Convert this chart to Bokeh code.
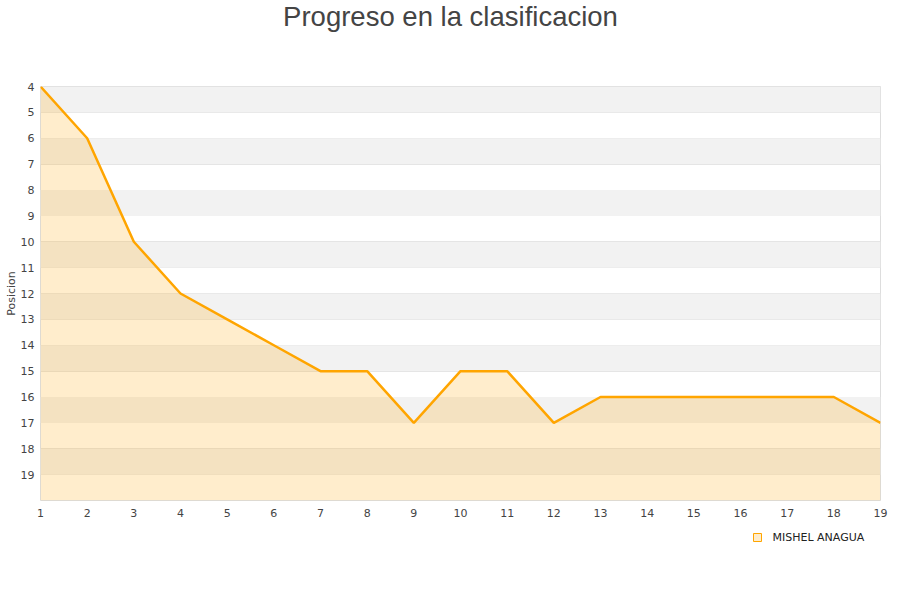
from bokeh.plotting import figure
from bokeh.layouts import column
from bokeh.models import Range1d, FixedTicker, BoxAnnotation
from bokeh.core.properties import value
from bokeh.embed import file_html
from bokeh.resources import INLINE

# Jornadas y posicion en la tabla
jornadas = list(range(1, 20))
posiciones = [4, 6, 10, 12, 13, 14, 15, 15, 17, 15, 15, 17, 16, 16, 16, 16, 16, 16, 17]
y_ticks = list(range(4, 20))
jugador = "MISHEL ANAGUA"
titulo = "Progreso en la clasificacion"

y_top, y_bottom = 4, 20
naranja = "#ffa500"
FRAME_L, FRAME_R = 40, 880


def strip(height):
    """A blank row in page pixel coordinates, used for the title and legend.
    The column aligns its frame with the chart's frame, so the x range spans
    the same pixels."""
    f = figure(width=900, height=height, output_backend="svg", toolbar_location=None,
               x_range=Range1d(FRAME_L, FRAME_R), y_range=Range1d(height, 0),
               min_border=0, min_border_left=FRAME_L, min_border_right=900 - FRAME_R,
               min_border_top=0, min_border_bottom=0,
               x_axis_type=None, y_axis_type=None)
    f.outline_line_color = None
    f.grid.visible = False
    return f


# title row
head = strip(40)
head.text([450], [16], text=[titulo], text_align="center", text_baseline="middle",
          text_font=value("Liberation Sans"), text_font_size="27.5px",
          text_color="#444444")

# main chart
p = figure(width=900, height=485, output_backend="svg", toolbar_location=None,
           x_range=Range1d(1, 19), y_range=Range1d(y_bottom, y_top),
           min_border_left=FRAME_L, min_border_right=900 - FRAME_R,
           min_border_top=46, min_border_bottom=25)
p.title = None
p.outline_line_color = "#dddddd"
p.background_fill_color = "white"
p.border_fill_color = "white"

# alternating horizontal bands
for k in range(y_top, y_bottom, 2):
    p.add_layout(BoxAnnotation(top=k, bottom=k + 1, fill_color="#f2f2f2",
                               fill_alpha=1, line_color=None, level="underlay"))

p.varea(x=jornadas, y1=posiciones, y2=[y_bottom] * len(jornadas),
        fill_color=naranja, fill_alpha=0.2)
p.line(jornadas, posiciones, line_color=naranja, line_width=2.5)

p.xaxis.ticker = FixedTicker(ticks=jornadas)
p.yaxis.ticker = FixedTicker(ticks=y_ticks)
p.xgrid.grid_line_color = None
p.ygrid.ticker = FixedTicker(ticks=y_ticks)
p.ygrid.grid_line_color = "#e0e0e0"

for ax in (p.xaxis[0], p.yaxis[0]):
    ax.axis_line_color = None
    ax.major_tick_line_color = None
    ax.minor_tick_line_color = None
    ax.major_tick_out = 0
    ax.major_tick_in = 0
    ax.minor_tick_out = 0
    ax.major_label_text_font = "DejaVu Sans"
    ax.major_label_text_font_size = "11px"
    ax.major_label_text_color = "#444444"

p.yaxis.major_label_standoff = 6
p.xaxis.major_label_standoff = 8
p.yaxis.axis_label = "Posicion"
p.yaxis.axis_label_text_font = "DejaVu Sans"
p.yaxis.axis_label_text_font_size = "11px"
p.yaxis.axis_label_text_font_style = "normal"
p.yaxis.axis_label_text_color = "#444444"
p.yaxis.axis_label_standoff = 0

# legend row
leg = strip(75)
leg.scatter([757], [12], marker="square", size=8, fill_color="#ffedcc",
            line_color=naranja, line_width=1)
leg.text([772], [12], text=[jugador], text_align="left", text_baseline="middle",
         text_font=value("DejaVu Sans"), text_font_size="11px",
         text_color="#222222")

layout = column(head, p, leg, spacing=0)
open("out.html", "w").write(file_html(layout, INLINE))
